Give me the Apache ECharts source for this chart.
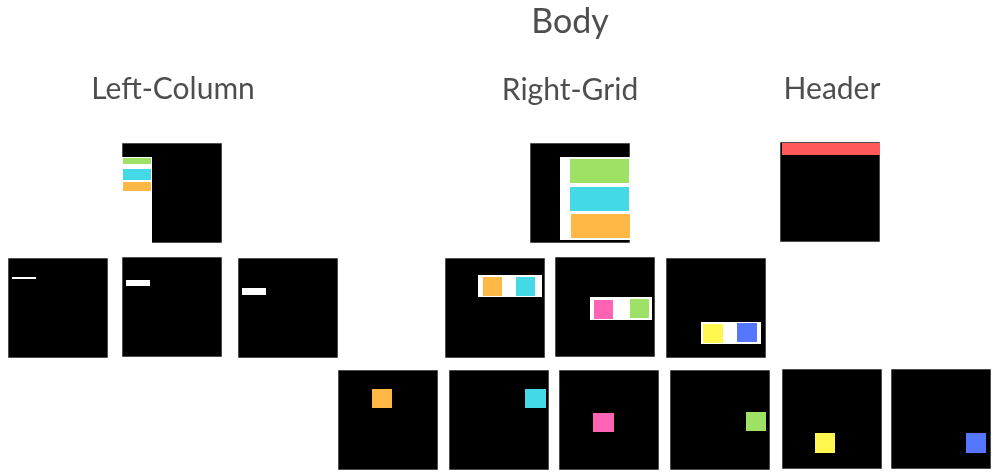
<!DOCTYPE html>
<html><head><meta charset="utf-8">
<script src="https://cdn.jsdelivr.net/npm/echarts@6/dist/echarts.min.js"></script>
<style>html,body{margin:0;padding:0;background:#fff}#c{width:997px;height:476px}</style>
</head><body><div id="c"></div>
<script>
// Node names, centres (layout units) and inner content
const nodeNames = ['Left-Column','Right-Grid','Header','L1','L2','L3','R1','R2','R3','G1','G2','G3','G4','G5','G6'];
const nodeX = [172,580,830, 58,172,288, 495,605,716, 388,499,609,720,832,941];
const nodeY = [193,193,192, 308,307,308, 308,307,308, 420,420,420,420,419,419];
// inner rectangles per node: [x,y,w,h,color]
const nodeContent = [
  [[0,14,30,86,'#ffffff'],[1,15,28,6,'#9de264'],[1,26,28,11,'#44d9e6'],[1,39,28,9,'#ffb845']],
  [[30,14,70,83,'#ffffff'],[40,16,59,24,'#9de264'],[40,44,59,24,'#44d9e6'],[41,71,59,24,'#ffb845']],
  [[2,1,98,12,'#ff5a5a']],
  [[4,19,24,2,'#ffffff']],
  [[4,23,24,6,'#ffffff']],
  [[4,30,24,7,'#ffffff']],
  [[33,17,64,22,'#ffffff'],[38,19,19,19,'#ffb845'],[71,19,19,19,'#44d9e6']],
  [[35,40,62,23,'#ffffff'],[39,43,19,19,'#ff64b4'],[75,42,19,19,'#9de264']],
  [[35,64,60,22,'#ffffff'],[37,66,20,19,'#fff74d'],[71,65,20,19,'#5576ff']],
  [[34,19,20,19,'#ffb845']],
  [[76,19,21,19,'#44d9e6']],
  [[34,43,21,19,'#ff64b4']],
  [[76,42,20,19,'#9de264']],
  [[33,64,20,20,'#fff74d']],
  [[75,64,20,20,'#5576ff']]
];
// Text labels
const labelTexts = ['Body','Left-Column','Right-Grid','Header'];
const labelX = [570,173,570,832];
const labelY = [22,89,90,89];
const labelSizes = [34,30,30,30];

function svgFor(rects){
  let s = '<svg xmlns="http://www.w3.org/2000/svg" width="100" height="100" viewBox="0 0 100 100">'+
    '<rect x="0" y="0" width="100" height="100" fill="#000" stroke="#999" stroke-width="1"/>';
  rects.forEach(r=>{ s += '<rect x="'+r[0]+'" y="'+r[1]+'" width="'+r[2]+'" height="'+r[3]+'" fill="'+r[4]+'"/>'; });
  s += '</svg>';
  return 'image://data:image/svg+xml;charset=utf-8,' + encodeURIComponent(s);
}

const chart = echarts.init(document.getElementById('c'));
chart.setOption({
  animation:false,
  grid:{left:0,right:0,top:0,bottom:0},
  xAxis:{type:'value',min:0,max:997,show:false},
  yAxis:{type:'value',min:0,max:476,inverse:true,show:false},
  series:[
    {type:'scatter',symbolSize:[100,100],itemStyle:{opacity:1},
     data:nodeNames.map((n,i)=>({name:n,value:[nodeX[i],nodeY[i]],symbol:svgFor(nodeContent[i])}))},
    {type:'scatter',symbol:'circle',symbolSize:1,itemStyle:{color:'rgba(0,0,0,0)'},
     label:{show:true,position:'inside',color:'#222',fontFamily:'Lato'},
     data:labelTexts.map((t,i)=>({name:t,value:[labelX[i],labelY[i]],
       label:{show:true,position:'inside',formatter:t,fontFamily:'Lato',fontSize:labelSizes[i],color:'#222'}}))}
  ]
});
</script></body></html>
